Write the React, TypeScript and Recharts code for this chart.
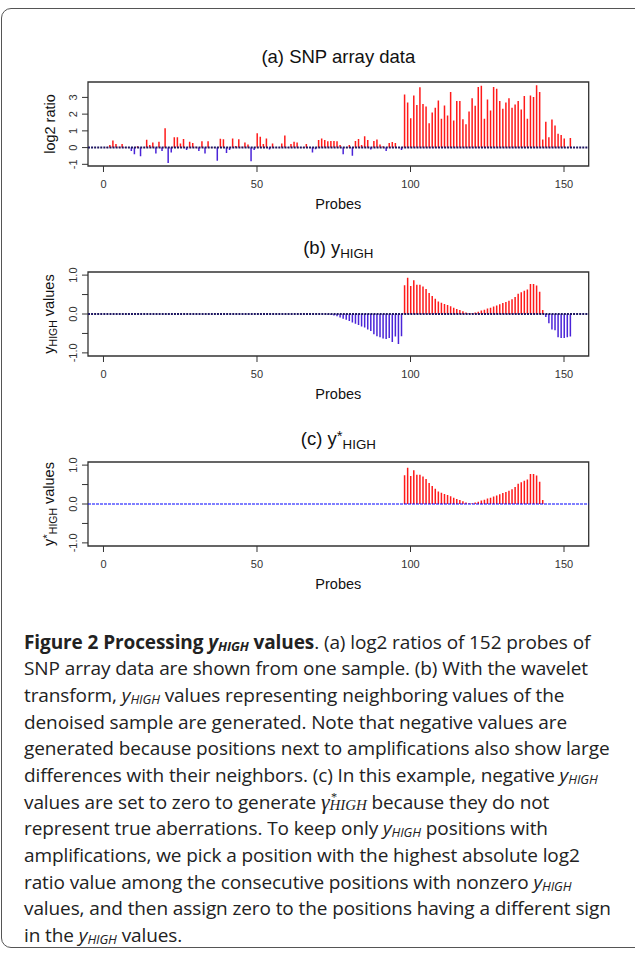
import React from 'react'
import { BarChart, Bar, Cell, XAxis, YAxis, ReferenceLine, ReferenceArea } from 'recharts'

// probe index 1..152
const probes = [
    1, 2, 3, 4, 5, 6, 7, 8, 9, 10, 11, 12, 13, 14, 15, 16, 17, 18, 19, 20,
    21, 22, 23, 24, 25, 26, 27, 28, 29, 30, 31, 32, 33, 34, 35, 36, 37, 38, 39, 40,
    41, 42, 43, 44, 45, 46, 47, 48, 49, 50, 51, 52, 53, 54, 55, 56, 57, 58, 59, 60,
    61, 62, 63, 64, 65, 66, 67, 68, 69, 70, 71, 72, 73, 74, 75, 76, 77, 78, 79, 80,
    81, 82, 83, 84, 85, 86, 87, 88, 89, 90, 91, 92, 93, 94, 95, 96, 97, 98, 99, 100,
    101, 102, 103, 104, 105, 106, 107, 108, 109, 110, 111, 112, 113, 114, 115, 116, 117, 118, 119, 120,
    121, 122, 123, 124, 125, 126, 127, 128, 129, 130, 131, 132, 133, 134, 135, 136, 137, 138, 139, 140,
    141, 142, 143, 144, 145, 146, 147, 148, 149, 150, 151, 152
]

// (a) log2 ratios
const log2Ratio = [
    0.03, 0.16, 0.42, 0.22, 0.05, 0.22, 0.03, 0.02, -0.2, -0.4, 0.08, -0.52, 0.02, 0.47, 0.15, 0.3, -0.35, 0.35, -0.2, 1.15,
    -0.92, -0.3, 0.62, 0.62, 0.25, 0.52, -0.15, 0.35, 0.28, 0.05, -0.2, 0.38, -0.35, 0.38, 0.02, 0.02, -0.78, 0.53, 0.5, -0.33,
    -0.15, 0.55, 0.1, 0.5, 0.05, 0.3, 0.18, -0.82, -0.15, 0.85, 0.65, 0.22, 0.55, -0.12, 0.25, 0.02, 0.02, 0.25, 0.72, 0.03,
    0.22, 0.35, 0.3, 0.02, 0.03, 0.22, 0.02, -0.3, -0.1, 0.45, 0.55, 0.45, 0.38, 0.4, 0.4, 0.38, 0.15, -0.4, 0.02, 0.15,
    -0.48, 0.4, 0.52, 0.15, 0.68, 0.45, -0.12, 0.4, 0.48, 0.18, 0.08, -0.2, 0.27, 0.33, 0.27, 0.02, -0.15, 3.18, 2.7, 1.75,
    3.12, 2.55, 3.6, 2.6, 2.45, 1.45, 2.1, 2.38, 2.82, 1.72, 2.52, 1.92, 3.32, 1.62, 2.78, 2.78, 1.7, 1.4, 2.15, 2.95,
    2.5, 3.62, 3.7, 1.72, 2.88, 2.22, 3.62, 3.52, 2.78, 2.32, 2.7, 2.95, 2.38, 2.58, 2.78, 2.28, 3.08, 1.72, 3.12, 3.02,
    3.72, 3.32, 0.48, 1.55, 0.62, 1.68, 1.32, 0.82, 0.75, 0.55, 0.02, 0.58
]

// (b) yHIGH
const yHigh = [
    0, 0, 0, 0, 0, 0, 0, 0, 0, 0, 0, 0, 0, 0, 0, 0, 0, 0, 0, 0,
    0, 0, 0, 0, 0, 0, 0, 0, 0, 0, 0, 0, 0, 0, 0, 0, 0, 0, 0, 0,
    0, 0, 0, 0, 0, 0, 0, 0, 0, 0, 0, 0, 0, 0, 0, 0, 0, 0, 0, 0,
    0, 0, 0, 0, 0, 0, 0, 0, 0, 0, 0, 0, -0.01, -0.02, -0.04, -0.06, -0.09, -0.12, -0.15, -0.18,
    -0.22, -0.25, -0.28, -0.32, -0.35, -0.4, -0.44, -0.52, -0.57, -0.6, -0.63, -0.64, -0.62, -0.72, -0.58, -0.77, -0.57, 0.74, 0.93, 0.72,
    0.87, 0.75, 0.75, 0.71, 0.64, 0.54, 0.46, 0.39, 0.32, 0.29, 0.26, 0.23, 0.2, 0.16, 0.13, 0.1, 0.07, 0.04, 0.02, 0.02,
    0.04, 0.06, 0.09, 0.11, 0.14, 0.16, 0.19, 0.22, 0.25, 0.28, 0.31, 0.34, 0.38, 0.44, 0.52, 0.56, 0.6, 0.63, 0.77, 0.77,
    0.73, 0.57, 0.1, -0.08, -0.24, -0.4, -0.42, -0.6, -0.62, -0.62, -0.6, -0.58
]

// (c) y*HIGH
const yHighStar = [
    0, 0, 0, 0, 0, 0, 0, 0, 0, 0, 0, 0, 0, 0, 0, 0, 0, 0, 0, 0,
    0, 0, 0, 0, 0, 0, 0, 0, 0, 0, 0, 0, 0, 0, 0, 0, 0, 0, 0, 0,
    0, 0, 0, 0, 0, 0, 0, 0, 0, 0, 0, 0, 0, 0, 0, 0, 0, 0, 0, 0,
    0, 0, 0, 0, 0, 0, 0, 0, 0, 0, 0, 0, 0, 0, 0, 0, 0, 0, 0, 0,
    0, 0, 0, 0, 0, 0, 0, 0, 0, 0, 0, 0, 0, 0, 0, 0, 0, 0.74, 0.93, 0.72,
    0.87, 0.75, 0.75, 0.71, 0.64, 0.54, 0.46, 0.39, 0.32, 0.29, 0.26, 0.23, 0.2, 0.16, 0.13, 0.1, 0.07, 0.04, 0.02, 0.02,
    0.04, 0.06, 0.09, 0.11, 0.14, 0.16, 0.19, 0.22, 0.25, 0.28, 0.31, 0.34, 0.38, 0.44, 0.52, 0.56, 0.6, 0.63, 0.77, 0.77,
    0.73, 0.57, 0.1, 0, 0, 0, 0, 0, 0, 0, 0, 0
]

const xTicks = [0, 50, 100, 150]
const xDomain = [-5.04, 158.04]
const log2Ticks = [-1, 0, 1, 2, 3]
const log2Labels = [-1, 0, 1, 2, 3]
const highTicks = [-1, -0.5, 0, 0.5, 1]
const highLabels = [-1, 0, 1]

const FONT = '"Liberation Sans", Arial, sans-serif'
const CHART_W = 635
const PLOT_LEFT = 88
const PLOT_RIGHT = 588.7
const Y_AXIS_W = 30
const M_TOP = 10
const PLOT_H = 84
const X_AXIS_H = 30

const sub: React.CSSProperties = { fontSize: '0.72em', verticalAlign: '-0.28em' }
const star: React.CSSProperties = { fontSize: '0.8em', verticalAlign: '0.3em' }

function Panel({ data, top, titleY, domain, ticks, labels, decimals, baseline, title, yLabel }: any) {
    const rows = probes.map((p, i) => ({ probe: p, value: data[i] }))
    const RotTick = (props: any) => {
        const { x, y, payload } = props
        if (!labels.includes(payload.value)) return null
        const bx = x - 3
        return (
            <text x={bx} y={y} transform={`rotate(-90 ${bx} ${y})`} textAnchor="middle"
                fontSize={11} fill="#333" fontFamily={FONT}>
                {payload.value.toFixed(decimals)}
            </text>
        )
    }
    const cy = top + PLOT_H / 2
    return (
        <>
            <div style={{ position: 'absolute', left: 0, width: PLOT_LEFT + PLOT_RIGHT, top: titleY, textAlign: 'center', fontFamily: FONT, fontSize: 18.5, color: '#111', lineHeight: '20px', transform: 'translateY(-50%)' }}>
                {title}
            </div>
            <div style={{ position: 'absolute', left: 50, top: cy, fontFamily: FONT, fontSize: 14.5, color: '#111', whiteSpace: 'nowrap', transform: 'translate(-50%, -50%) rotate(-90deg)' }}>
                {yLabel}
            </div>
            <div style={{ position: 'absolute', left: 0, width: PLOT_LEFT + PLOT_RIGHT, top: top + PLOT_H + 38, textAlign: 'center', fontFamily: FONT, fontSize: 14.5, color: '#111', transform: 'translateY(-50%)' }}>
                Probes
            </div>
            <div style={{ position: 'absolute', left: 0, top: top - M_TOP }}>
                <BarChart width={CHART_W} height={M_TOP + PLOT_H + X_AXIS_H} data={rows}
                    margin={{ top: M_TOP, right: CHART_W - PLOT_RIGHT, bottom: 0, left: PLOT_LEFT - Y_AXIS_W }}>
                    <XAxis type="number" dataKey="probe" domain={xDomain} ticks={xTicks} allowDataOverflow interval={0}
                        height={X_AXIS_H} axisLine={false} tickSize={6} tickMargin={8}
                        tickLine={{ stroke: '#333' }} tick={{ fontSize: 11, fill: '#333', fontFamily: FONT }} />
                    <YAxis type="number" domain={domain} ticks={ticks} allowDataOverflow width={Y_AXIS_W} interval={0}
                        axisLine={false} tickSize={6} tickMargin={2} tickLine={{ stroke: '#333' }} tick={RotTick} />
                    <ReferenceArea x1={xDomain[0]} x2={xDomain[1]} y1={domain[0]} y2={domain[1]}
                        fill="none" stroke="#333" strokeWidth={1.3} fillOpacity={0} />
                    <Bar dataKey="value" barSize={1.5} isAnimationActive={false}>
                        {rows.map((r, i) => (
                            <Cell key={i} fill={r.value >= 0 ? '#ff1a1a' : '#4a24d8'} />
                        ))}
                    </Bar>
                    <ReferenceLine y={0} stroke={baseline.color} strokeWidth={baseline.width}
                        strokeDasharray={baseline.dash} />
                </BarChart>
            </div>
        </>
    )
}

export default function App() {
    return (
        <div style={{ position: 'absolute', left: 0, top: 0, width: 635, height: 953, overflow: 'hidden', background: '#fff' }}>
            <div style={{ position: 'absolute', left: 1, top: 8, width: 680, height: 938, border: '1.5px solid #555', borderRadius: 10 }} />
            <Panel data={log2Ratio} top={82} titleY={56.7} domain={[-1.1, 3.92]} ticks={log2Ticks} labels={log2Labels} decimals={0}
                baseline={{ color: '#1d1660', width: 2, dash: '2 1.07' }}
                title={<span>(a) SNP array data</span>}
                yLabel={<span>log2 ratio</span>} />
            <Panel data={yHigh} top={272} titleY={250.7} domain={[-1.08, 1.08]} ticks={highTicks} labels={highLabels} decimals={1}
                baseline={{ color: '#1d1660', width: 2, dash: '2 1.07' }}
                title={<span>(b) y<span style={sub}>HIGH</span></span>}
                yLabel={<span>y<span style={sub}>HIGH</span> values</span>} />
            <Panel data={yHighStar} top={462} titleY={440.7} domain={[-1.08, 1.08]} ticks={highTicks} labels={highLabels} decimals={1}
                baseline={{ color: '#0000ff', width: 1.2, dash: '3 1' }}
                title={<span>(c) y<sup style={star}>*</sup><span style={sub}>HIGH</span></span>}
                yLabel={<span>y<sup style={star}>*</sup><span style={sub}>HIGH</span> values</span>} />
            <Caption />
        </div>
    )
}

const capLine: React.CSSProperties = { whiteSpace: 'nowrap', height: 26.7, lineHeight: '26.7px' }
const isub: React.CSSProperties = { fontSize: '0.68em', verticalAlign: '-0.12em', lineHeight: 1 }

function Y() {
    return <i>y<span style={isub}>HIGH</span></i>
}

function Caption() {
    return (
        <div style={{ position: 'absolute', left: 24, top: 628.6, fontFamily: '"Open Sans", sans-serif', fontSize: 19, color: '#222', letterSpacing: -0.1 }}>
            <div style={capLine}><b>Figure 2 Processing <Y /> values</b>. (a) log2 ratios of 152 probes of</div>
            <div style={capLine}>SNP array data are shown from one sample. (b) With the wavelet</div>
            <div style={capLine}>transform, <Y /> values representing neighboring values of the</div>
            <div style={capLine}>denoised sample are generated. Note that negative values are</div>
            <div style={capLine}>generated because positions next to amplifications also show large</div>
            <div style={capLine}>differences with their neighbors. (c) In this example, negative <Y /></div>
            <div style={capLine}>values are set to zero to generate{' '}
                <span style={{ fontFamily: '"Liberation Serif", serif', fontStyle: 'italic', lineHeight: 1 }}>
                    <span style={{ fontSize: 22 }}>γ</span>
                    <span style={{ display: 'inline-block', position: 'relative', fontSize: 15, lineHeight: 1, verticalAlign: '-0.1em' }}>
                        <span style={{ position: 'absolute', left: 1, top: -7, fontSize: 12 }}>*</span>
                        HIGH
                    </span>
                </span>{' '}because they do not</div>
            <div style={capLine}>represent true aberrations. To keep only <Y /> positions with</div>
            <div style={capLine}>amplifications, we pick a position with the highest absolute log2</div>
            <div style={capLine}>ratio value among the consecutive positions with nonzero <Y /></div>
            <div style={capLine}>values, and then assign zero to the positions having a different sign</div>
            <div style={capLine}>in the <Y /> values.</div>
        </div>
    )
}
